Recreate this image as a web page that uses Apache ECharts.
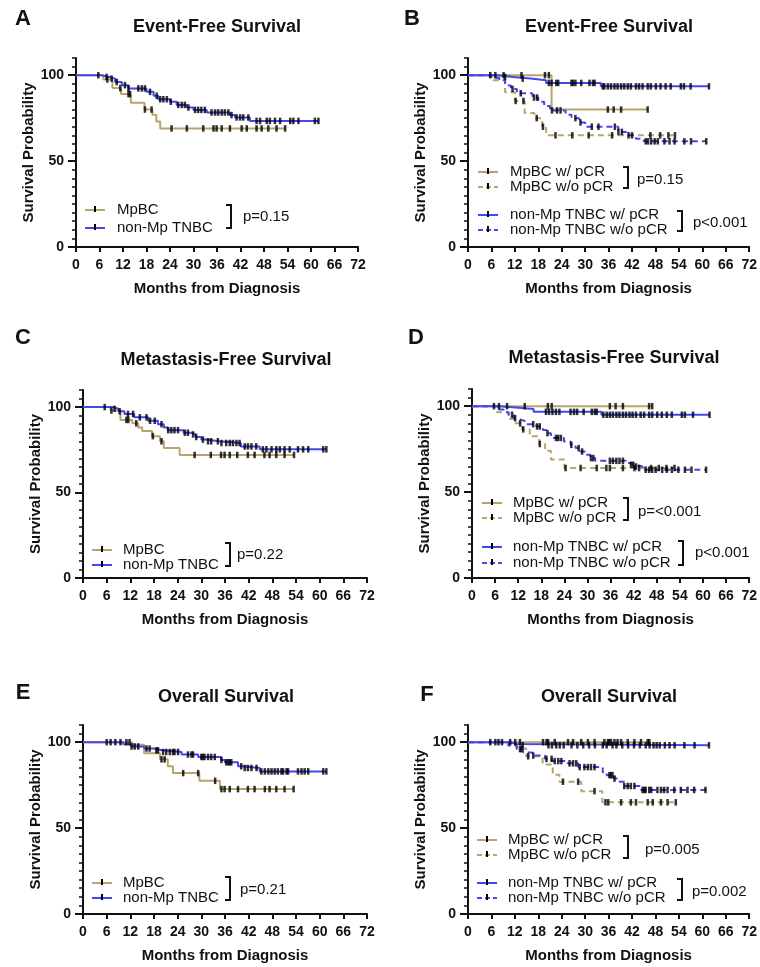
<!DOCTYPE html>
<html>
<head>
<meta charset="utf-8">
<script src="https://cdn.jsdelivr.net/npm/echarts@6/dist/echarts.min.js"></script>
<style>
  html, body { margin: 0; padding: 0; background: #fff; }
  #chart { width: 760px; height: 967px; }
</style>
</head>
<body>
<div id="chart"></div>
<script>
// --- values: [month, survival %] steps + censor months ---
const probLabels = [0, 50, 100];

// A: event-free, MpBC vs non-Mp TNBC
const efsMpbc = [[0,100],[7,97.5],[9.3,92.5],[11.5,89],[14,84],[17.5,80],[19.5,77],[20.5,73],[21.5,69],[53.5,69]];
const efsMpbcCens = [8, 11.3, 13.4, 13.8, 17.6, 19.3, 24.4, 28.3, 32.5, 35.1, 35.9, 37.2, 39.3, 42.3, 43.6, 46.1, 47.4, 49.1, 51.2, 53.4];
const efsTnbc = [[0,100],[6.5,99],[8.5,98],[10,96],[11.7,94.2],[13.4,92.3],[18,90.3],[19.8,88],[21,86],[24,84.5],[25.7,82.7],[28.3,81.2],[30,79.8],[33.4,78.3],[39.3,76.8],[40.6,75.4],[44.4,73.4],[61.9,73.4]];
const efsTnbcCens = [5.7, 7.8, 9.1, 10.4, 12.5, 13.4, 15.9, 16.8, 17.6, 18.9, 20.6, 21.5, 22.3, 23.2, 24.2, 26.1, 27, 27.8, 28.7, 30.4, 31.2, 32, 32.9, 34.6, 35.5, 36.3, 37.2, 38, 38.9, 39.7, 41, 41.9, 42.7, 44, 46.1, 47, 48.7, 49.5, 50.8, 52.1, 54.7, 55.5, 56.8, 61, 61.9];

// B: event-free by pCR
const efsMpbcPcr = [[0,100],[21.4,80],[46,80]];
const efsMpbcPcrCens = [5.7, 7, 9.1, 13.7, 19.7, 20.7, 35.8, 37.3, 39.2, 46];
const efsMpbcNoPcr = [[0,100],[6.5,97],[9.5,90],[12,85],[14.5,78],[17,75],[19,70],[20,65],[53,65]];
const efsMpbcNoPcrCens = [12.2, 14.2, 17.6, 19.2, 22.4, 26.7, 30.9, 36.9, 42, 46.7, 49.2, 51.3, 53];
const efsTnbcPcr = [[0,100],[7.5,99],[11.5,98],[16,97],[20,95.5],[34,93.5],[61.7,93.5]];
const efsTnbcPcrCens = [9.5, 14, 20.7, 21.4, 22.6, 23.1, 26.5, 26.9, 27.5, 29, 31.1, 32, 32.4, 34.5, 34.9, 35.8, 36.6, 37.5, 38.3, 39.2, 40, 40.9, 41.7, 43, 43.8, 44.7, 46, 46.8, 48.1, 49.3, 50.6, 51.9, 54.5, 55.3, 57, 61.7];
const efsTnbcNoPcr = [[0,100],[6,98.5],[8,97],[9.5,94],[11,92],[12.5,89.5],[16.5,87],[18,84.5],[19.5,82],[21,79.5],[25,77],[26.5,75],[28.5,72.5],[30,70],[38.5,67],[40.5,65],[43,63],[45,61.5],[61,61.5]];
const efsTnbcNoPcrCens = [11.4, 13.5, 16.9, 17.7, 21.5, 22.8, 23.7, 27.5, 28.8, 31.7, 33.4, 37.6, 38.5, 39.4, 41.1, 45.5, 46.1, 46.9, 47.8, 48.6, 50.3, 51.6, 52.9, 55.4, 57.1, 61];

// C: metastasis-free, MpBC vs non-Mp TNBC
const mfsMpbc = [[0,100],[7,98],[9.5,92.5],[12.5,90.5],[14,88],[15,86],[17.5,83],[19.5,80],[20.5,76],[24.5,72],[53.5,72]];
const mfsMpbcCens = [7.2, 11, 11.5, 13.5, 17.7, 19.9, 28.3, 32.4, 35, 35.9, 37.2, 39.1, 41.8, 43.5, 46, 47.3, 49, 51.1, 53.5];
const mfsTnbc = [[0,100],[7.5,99],[9,97.5],[10.5,96],[13,94],[16.5,92],[19,90],[20.5,88],[21.5,86.5],[25.5,85],[27.5,84],[28.5,82.5],[30,81],[31,80],[34.5,79],[40,77],[44.8,75.3],[61.7,75.3]];
const mfsTnbcCens = [5.5, 8, 9.3, 11.4, 12.7, 14.4, 16.1, 17, 18.2, 19.9, 21.6, 22.4, 23.2, 24.1, 25.8, 26.6, 27.9, 28.7, 30.4, 31.7, 32.5, 34.2, 35.1, 36.3, 37.2, 38, 38.9, 39.7, 41, 41.8, 42.7, 43.9, 45.6, 46.5, 47.8, 49, 49.9, 51.1, 52.4, 54.5, 55.8, 57.1, 60.9, 61.7];

// D: metastasis-free by pCR
const mfsMpbcPcr = [[0,100],[46.8,100]];
const mfsMpbcPcrCens = [5.7, 7, 9.1, 13.7, 19.7, 20.7, 35.8, 37.3, 39.2, 46, 46.8];
const mfsMpbcNoPcr = [[0,100],[6.5,96.5],[9.5,92.5],[11,90],[13,86.5],[15,82.5],[17.5,78],[19,74],[20.5,69],[24,64],[52.6,64]];
const mfsMpbcNoPcrCens = [12.5, 13.3, 17.6, 24.3, 28.2, 32.4, 34.9, 35.8, 39.2, 42.2, 43.4, 46.5, 48.5, 50.5, 52.6];
const mfsTnbcPcr = [[0,100],[7,99.2],[11.3,98.3],[16,96.7],[33.6,95],[61.7,95]];
const mfsTnbcPcrCens = [19.2, 20, 20.9, 21.8, 22.7, 25.6, 26.5, 27.3, 29, 31.1, 31.9, 32.4, 34.1, 35, 35.8, 36.6, 37.5, 38.3, 39.2, 40, 40.9, 41.7, 42.6, 43.8, 44.7, 46, 46.8, 48.1, 49.3, 50.6, 51.9, 54.5, 55.3, 57.4, 61.7];
const mfsTnbcNoPcr = [[0,100],[7,98],[8.2,96.5],[9.5,95],[10.8,93],[11.6,92],[12.9,91],[14.2,89.5],[16.7,88.2],[18.4,86.2],[19.3,84.3],[20.5,81.5],[23.9,79.5],[25.6,77.5],[26.9,75.6],[28.1,73.6],[29.8,71.7],[30.7,69.8],[32,68.2],[40,66.9],[40.9,65.9],[42.2,64.9],[44.3,63],[60.8,63]];
const mfsTnbcNoPcrCens = [10.4, 11.2, 15.9, 16.9, 17.6, 19.6, 21.8, 22.4, 23.1, 25.8, 27.7, 28.6, 30.9, 31.5, 35.8, 36.6, 37.5, 38.3, 39.2, 41.3, 41.9, 42.6, 45.1, 46, 46.8, 47.7, 49.4, 50.6, 51.9, 53.6, 55.3, 57, 60.8];

// E: overall, MpBC vs non-Mp TNBC
const osMpbc = [[0,100],[12.5,98.5],[15.5,93.5],[19.5,90],[21.5,86],[22.8,82],[29.5,77.5],[34.7,72.7],[53.4,72.7]];
const osMpbcCens = [6, 7, 8.2, 9.5, 11, 11.8, 19.9, 20.7, 25.4, 29.2, 33.5, 35.1, 35.9, 37.2, 39.3, 41.8, 43.5, 46.1, 47.3, 49, 51.1, 53.4];
const osTnbc = [[0,100],[10.2,98.8],[12.3,97.5],[15.5,96.3],[17.8,95.3],[20,94.3],[25,92.8],[29.2,91.4],[35,89.7],[36,88.3],[39.3,86],[40.2,85],[44.8,83],[61.7,83]];
const osTnbcCens = [12.3, 13.1, 14, 16.1, 16.9, 18.6, 19, 20.3, 21.1, 22, 22.8, 23.2, 24.1, 26.6, 27.5, 27.9, 30, 30.4, 30.8, 31.7, 32.5, 33.4, 35.1, 36.3, 36.8, 37.2, 37.6, 40.1, 41, 41.8, 42.7, 44, 45.2, 46.1, 47, 47.8, 48.6, 49.4, 50.3, 50.7, 51.6, 52, 54.5, 55.4, 56.2, 57.1, 60.9, 61.7];

// F: overall by pCR
const osMpbcPcr = [[0,100],[46.7,100]];
const osMpbcPcrCens = [5.7, 7, 7.8, 8.7, 10.8, 12.1, 13.3, 19.2, 20.1, 20.5, 22.2, 25.6, 26.9, 29, 30.7, 32.4, 34.9, 35.8, 36.2, 36.6, 37.5, 38.3, 39.2, 40.9, 42.6, 44.3, 46, 46.4];
const osMpbcNoPcr = [[0,100],[12.4,96.3],[14.9,91.8],[19.1,87],[21.7,81],[23.4,77],[29,71.5],[34.4,65],[53.4,65]];
const osMpbcNoPcrCens = [15.4, 24.3, 28.2, 32.4, 35.2, 35.9, 39.2, 41.7, 43, 46, 47.3, 49.4, 51.1, 53.2];
const osTnbcPcr = [[0,100],[10.5,99],[12.5,98.2],[61.7,98.2]];
const osTnbcPcrCens = [14, 20.6, 21.5, 22.6, 23.5, 24.5, 26.5, 28, 29.5, 31, 32.5, 34.5, 35.5, 37, 38, 39.5, 41, 42.5, 44, 45.5, 46.5, 47.5, 48.3, 49.1, 50.4, 51.6, 52.9, 55.4, 58, 61.7];
const osTnbcNoPcr = [[0,100],[10.3,98],[12.5,96],[14.1,94],[16.5,92.2],[19.7,90.3],[21.5,89],[25.5,87.7],[28.2,85.5],[34.5,82.5],[35.5,80.8],[37.5,78.8],[38.8,76.9],[40,74.5],[44.3,72.2],[61.3,72.2]];
const osTnbcNoPcrCens = [13.3, 13.7, 16.7, 20.1, 21.4, 22.2, 23.1, 23.9, 26, 26.9, 27.7, 28.6, 29.8, 30.7, 31.5, 32.4, 36.2, 36.6, 37, 37.5, 40, 40.9, 41.7, 42.6, 44.7, 45.1, 45.5, 46.4, 46.9, 48.5, 49.4, 50.2, 51.1, 52.8, 54.5, 56.2, 57.9, 60.8];

const FONT = "'Liberation Sans', Arial, Helvetica, sans-serif";
const TAN = "#b8a56d";
const BLUE = "#4545f2";
const INK = "#111";

function survAt(steps, t) {
  let v = steps[0][1];
  steps.forEach(([x, y]) => { if (x <= t) v = y; });
  return v;
}

const twoGroupLegend = (c1, c2) => [
  { name: "MpBC", steps: c1[0], cens: c1[1], color: TAN, dashed: false },
  { name: "non-Mp TNBC", steps: c2[0], cens: c2[1], color: BLUE, dashed: false }
];
const fourGroupLegend = (a, b, c, d) => [
  { name: "MpBC w/ pCR", steps: a[0], cens: a[1], color: TAN, dashed: false },
  { name: "MpBC w/o pCR", steps: b[0], cens: b[1], color: TAN, dashed: true },
  { name: "non-Mp TNBC w/ pCR", steps: c[0], cens: c[1], color: BLUE, dashed: false },
  { name: "non-Mp TNBC w/o pCR", steps: d[0], cens: d[1], color: BLUE, dashed: true }
];

const panels = [
  {
    letter: "A", letterPos: [23, 19], title: "Event-Free Survival", titlePos: [217, 27],
    grid: { left: 76, top: 58, width: 282, height: 189 },
    curves: twoGroupLegend([efsMpbc, efsMpbcCens], [efsTnbc, efsTnbcCens]),
    legend: { x: 85, textX: 117, rows: [210, 228] },
    brackets: [{ x: 231, y1: 205, y2: 228, text: "p=0.15", tx: 243, ty: 217 }]
  },
  {
    letter: "B", letterPos: [412, 19], title: "Event-Free Survival", titlePos: [609, 27],
    grid: { left: 468, top: 58, width: 283, height: 189 },
    curves: fourGroupLegend([efsMpbcPcr, efsMpbcPcrCens], [efsMpbcNoPcr, efsMpbcNoPcrCens],
                            [efsTnbcPcr, efsTnbcPcrCens], [efsTnbcNoPcr, efsTnbcNoPcrCens]),
    legend: { x: 478, textX: 510, rows: [172, 187, 215, 230] },
    brackets: [
      { x: 628, y1: 167, y2: 188, text: "p=0.15", tx: 637, ty: 180 },
      { x: 682, y1: 211, y2: 231, text: "p<0.001", tx: 693, ty: 223 }
    ]
  },
  {
    letter: "C", letterPos: [23, 338], title: "Metastasis-Free Survival", titlePos: [226, 360],
    grid: { left: 83, top: 390, width: 284, height: 188 },
    curves: twoGroupLegend([mfsMpbc, mfsMpbcCens], [mfsTnbc, mfsTnbcCens]),
    legend: { x: 92, textX: 123, rows: [550, 565] },
    brackets: [{ x: 230, y1: 543, y2: 566, text: "p=0.22", tx: 237, ty: 555 }]
  },
  {
    letter: "D", letterPos: [416, 338], title: "Metastasis-Free Survival", titlePos: [614, 358],
    grid: { left: 472, top: 389, width: 283, height: 189 },
    curves: fourGroupLegend([mfsMpbcPcr, mfsMpbcPcrCens], [mfsMpbcNoPcr, mfsMpbcNoPcrCens],
                            [mfsTnbcPcr, mfsTnbcPcrCens], [mfsTnbcNoPcr, mfsTnbcNoPcrCens]),
    legend: { x: 482, textX: 513, rows: [503, 518, 547, 563] },
    brackets: [
      { x: 628, y1: 498, y2: 520, text: "p=<0.001", tx: 638, ty: 512 },
      { x: 683, y1: 541, y2: 565, text: "p<0.001", tx: 695, ty: 553 }
    ]
  },
  {
    letter: "E", letterPos: [23, 693], title: "Overall Survival", titlePos: [226, 697],
    grid: { left: 83, top: 725, width: 284, height: 189 },
    curves: twoGroupLegend([osMpbc, osMpbcCens], [osTnbc, osTnbcCens]),
    legend: { x: 92, textX: 123, rows: [883, 898] },
    brackets: [{ x: 230, y1: 877, y2: 900, text: "p=0.21", tx: 240, ty: 890 }]
  },
  {
    letter: "F", letterPos: [427, 695], title: "Overall Survival", titlePos: [609, 697],
    grid: { left: 468, top: 725, width: 282, height: 189 },
    curves: fourGroupLegend([osMpbcPcr, osMpbcPcrCens], [osMpbcNoPcr, osMpbcNoPcrCens],
                            [osTnbcPcr, osTnbcPcrCens], [osTnbcNoPcr, osTnbcNoPcrCens]),
    legend: { x: 477, textX: 508, rows: [840, 855, 883, 898] },
    brackets: [
      { x: 628, y1: 836, y2: 858, text: "p=0.005", tx: 645, ty: 850 },
      { x: 682, y1: 879, y2: 900, text: "p=0.002", tx: 692, ty: 892 }
    ]
  }
];

const grids = [], xAxes = [], yAxes = [], series = [], graphics = [];

function txt(x, y, text, font, align) {
  return {
    type: "text", x: x, y: y, silent: true,
    style: { text: text, font: font, fill: INK, textAlign: align || "left", textVerticalAlign: "middle", align: align || "left", verticalAlign: "middle" }
  };
}

panels.forEach((p, i) => {
  grids.push(Object.assign({ containLabel: false }, p.grid));

  xAxes.push({
    gridIndex: i, type: "value", min: 0, max: 72, interval: 6,
    name: "Months from Diagnosis", nameLocation: "middle", nameGap: 34,
    nameTextStyle: { fontFamily: FONT, fontWeight: "bold", fontSize: 15, color: INK },
    axisLine: { onZero: false, lineStyle: { color: INK, width: 2 } },
    axisTick: { length: 5, lineStyle: { color: INK, width: 2 } },
    axisLabel: { fontFamily: FONT, fontWeight: "bold", fontSize: 14, color: INK, margin: 11 },
    splitLine: { show: false }
  });

  // minor ticks every 5 with labels at 0/50/100
  yAxes.push({
    gridIndex: i, type: "value", position: "left", min: 0, max: 110, interval: 5,
    name: "Survival Probability", nameLocation: "middle", nameGap: 39,
    nameTextStyle: { fontFamily: FONT, fontWeight: "bold", fontSize: 15, color: INK },
    axisLine: { onZero: false, lineStyle: { color: INK, width: 2 } },
    axisTick: { length: 4, lineStyle: { color: INK, width: 1.5 } },
    axisLabel: {
      fontFamily: FONT, fontWeight: "bold", fontSize: 14, color: INK, margin: 12,
      formatter: (v) => (probLabels.indexOf(v) >= 0 ? String(v) : "")
    },
    splitLine: { show: false }
  });
  // longer major ticks
  yAxes.push({
    gridIndex: i, type: "value", position: "left", offset: 0, min: 0, max: 110, interval: 50,
    axisLine: { show: false },
    axisTick: { length: 8, customValues: probLabels, lineStyle: { color: INK, width: 2 } },
    axisLabel: { show: false },
    splitLine: { show: false }
  });

  const yIdx = i * 2;
  p.curves.forEach((c) => {
    series.push({
      type: "line", name: c.name, xAxisIndex: i, yAxisIndex: yIdx,
      step: "end", data: c.steps, symbol: "none", silent: true,
      lineStyle: { color: c.color, width: 2, type: c.dashed ? [6, 4] : "solid" },
      z: c.color === BLUE ? 3 : 2
    });
  });
  p.curves.forEach((c) => {
    series.push({
      type: "scatter", xAxisIndex: i, yAxisIndex: yIdx, silent: true,
      data: c.cens.map((t) => [t, survAt(c.steps, t)]),
      symbol: "rect", symbolSize: [2.5, 6.5],
      itemStyle: { color: "#000" }, z: 4
    });
  });

  // panel letter and title
  graphics.push(txt(p.letterPos[0], p.letterPos[1], p.letter, "bold 22px " + FONT, "center"));
  graphics.push(txt(p.titlePos[0], p.titlePos[1], p.title, "bold 18px " + FONT, "center"));

  // legend
  p.curves.forEach((c, k) => {
    const y = p.legend.rows[k];
    const x1 = p.legend.x, x2 = p.legend.x + 20;
    graphics.push({
      type: "line", silent: true,
      shape: { x1: x1, y1: y, x2: x2, y2: y },
      style: { stroke: c.color, lineWidth: 2, lineDash: c.dashed ? [5, 3] : null }
    });
    graphics.push({
      type: "rect", silent: true,
      shape: { x: (x1 + x2) / 2 - 1, y: y - 4, width: 2, height: 6 },
      style: { fill: "#000" }
    });
    graphics.push(txt(p.legend.textX, y, c.name, "15px " + FONT, "left"));
  });

  // brackets with p-values
  p.brackets.forEach((b) => {
    graphics.push({
      type: "polyline", silent: true,
      shape: { points: [[b.x - 5, b.y1], [b.x, b.y1], [b.x, b.y2], [b.x - 5, b.y2]] },
      style: { stroke: INK, lineWidth: 2, fill: null }
    });
    graphics.push(txt(b.tx, b.ty, b.text, "15px " + FONT, "left"));
  });
});

const chart = echarts.init(document.getElementById("chart"), null, { renderer: "canvas" });
chart.setOption({
  animation: false,
  backgroundColor: "#fff",
  grid: grids,
  xAxis: xAxes,
  yAxis: yAxes,
  series: series,
  graphic: { elements: graphics }
});
window.addEventListener("resize", function () {
  chart.resize();
});
</script>
</body>
</html>
